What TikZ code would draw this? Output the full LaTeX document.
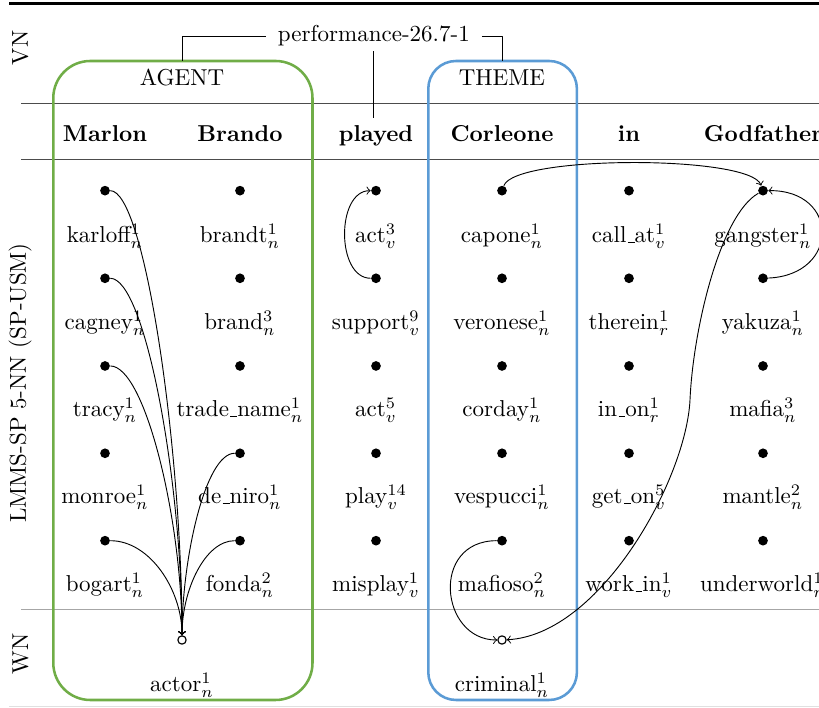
\documentclass[tikz,border=0pt]{standalone}
\usepackage{tikz}
\definecolor{agentgreen}{HTML}{70AD47}
\definecolor{themeblue}{HTML}{5B9BD5}
\newcommand{\synus}{\leavevmode\kern.06em\vbox{\hrule width.3em}}
\begin{document}
\begin{tikzpicture}[>=to,line join=bevel,
  synset/.style={circle,fill=black,inner sep=0pt,minimum size=4.2bp},
  wnsense/.style={circle,draw=black,fill=white,inner sep=0pt,minimum size=3.6bp,line width=0.5pt},
  sense/.style={anchor=base,inner sep=1pt},
  word/.style={anchor=base,font=\bfseries},
  rowname/.style={rotate=90},
  rolebox/.style={line width=1.1bp},
  rule/.style={line width=0.4pt,black!70}]
%%
\useasboundingbox (0bp,0bp) rectangle (354.63bp,306.56bp);
\draw [line width=1.3bp] (4.03bp,304.83bp) -- (354.63bp,304.83bp);
\draw [rule] (9.1bp,261.66bp) -- (354.63bp,261.66bp);
\draw [rule] (9.1bp,237.72bp) -- (354.63bp,237.72bp);
\draw [rule,black!35] (9.1bp,42.87bp) -- (354.63bp,42.87bp);
\draw [rule,black!12] (4.03bp,0.6bp) -- (354.63bp,0.6bp);
%
\draw [rolebox,agentgreen,rounded corners=16bp] (23.08bp,3.46bp) rectangle (135.31bp,280.15bp);
\draw [rolebox,themeblue,rounded corners=12bp] (185.45bp,3.46bp) rectangle (249.8bp,280.15bp);
\coordinate (agent_top) at (79.11bp,280.15bp);
\coordinate (theme_top) at (217.67bp,280.15bp);
%
\node (node_vn) at (8.79bp,285.78bp) [rowname] {VN};
\node (node_lmms) at (8.66bp,140.73bp) [rowname] {LMMS-SP 5-NN (SP-USM)};
\node (node_wn) at (8.9bp,23.38bp) [rowname] {WN};
%
\node (node_frame) at (161.88bp,290.98bp) [inner xsep=5pt,inner ysep=2pt] {performance-26.7-1};
\node (node_agent) at (78.81bp,269.33bp) [anchor=base] {AGENT};
\node (node_theme) at (217.37bp,269.33bp) [anchor=base] {THEME};
%
\node (node_marlon) at (45.47bp,245.2bp) [word] {Marlon};
\node (node_brando) at (103.92bp,245.2bp) [word] {Brando};
\node (node_played) at (162.81bp,245.2bp) [word] {played};
\node (node_corleone) at (217.37bp,245.2bp) [word] {Corleone};
\node (node_in) at (272.36bp,245.2bp) [word] {in};
\node (node_godfather) at (330.38bp,245.2bp) [word] {Godfather};
%
\draw (node_frame.west) -| (agent_top);
\draw (node_frame.east) -| (theme_top);
\draw (node_frame.south) -- (node_frame.south |- node_played.north);
%%
\node (node_karloff) at (45.47bp,224.0bp) [synset] {};
\node (node_brandt) at (103.92bp,224.0bp) [synset] {};
\node (node_act_3) at (162.81bp,224.0bp) [synset] {};
\node (node_capone) at (217.37bp,224.0bp) [synset] {};
\node (node_call_at) at (272.36bp,224.0bp) [synset] {};
\node (node_gangster) at (330.38bp,224.0bp) [synset] {};
\node (lbl_karloff) at (45.47bp,201.35bp) [sense] {karloff$^{1}_{n}$};
\node (lbl_brandt) at (103.92bp,201.35bp) [sense] {brandt$^{1}_{n}$};
\node (lbl_act_3) at (162.81bp,201.35bp) [sense] {act$^{3}_{v}$};
\node (lbl_capone) at (217.37bp,201.35bp) [sense] {capone$^{1}_{n}$};
\node (lbl_call_at) at (272.36bp,201.35bp) [sense] {call\synus at$^{1}_{v}$};
\node (lbl_gangster) at (330.38bp,201.35bp) [sense] {gangster$^{1}_{n}$};
%
\node (node_cagney) at (45.47bp,186.06bp) [synset] {};
\node (node_brand) at (103.92bp,186.06bp) [synset] {};
\node (node_support) at (162.81bp,186.06bp) [synset] {};
\node (node_veronese) at (217.37bp,186.06bp) [synset] {};
\node (node_therein) at (272.36bp,186.06bp) [synset] {};
\node (node_yakuza) at (330.38bp,186.06bp) [synset] {};
\node (lbl_cagney) at (45.47bp,163.67bp) [sense] {cagney$^{1}_{n}$};
\node (lbl_brand) at (103.92bp,163.67bp) [sense] {brand$^{3}_{n}$};
\node (lbl_support) at (162.81bp,163.67bp) [sense] {support$^{9}_{v}$};
\node (lbl_veronese) at (217.37bp,163.67bp) [sense] {veronese$^{1}_{n}$};
\node (lbl_therein) at (272.36bp,163.67bp) [sense] {therein$^{1}_{r}$};
\node (lbl_yakuza) at (330.38bp,163.67bp) [sense] {yakuza$^{1}_{n}$};
%
\node (node_tracy) at (45.47bp,148.09bp) [synset] {};
\node (node_trade_name) at (103.92bp,148.09bp) [synset] {};
\node (node_act_5) at (162.81bp,148.09bp) [synset] {};
\node (node_corday) at (217.37bp,148.09bp) [synset] {};
\node (node_in_on) at (272.36bp,148.09bp) [synset] {};
\node (node_mafia) at (330.38bp,148.09bp) [synset] {};
\node (lbl_tracy) at (45.47bp,126.0bp) [sense] {tracy$^{1}_{n}$};
\node (lbl_trade_name) at (103.92bp,126.0bp) [sense] {trade\synus name$^{1}_{n}$};
\node (lbl_act_5) at (162.81bp,126.0bp) [sense] {act$^{5}_{v}$};
\node (lbl_corday) at (217.37bp,126.0bp) [sense] {corday$^{1}_{n}$};
\node (lbl_in_on) at (272.36bp,126.0bp) [sense] {in\synus on$^{1}_{r}$};
\node (lbl_mafia) at (330.38bp,126.0bp) [sense] {mafia$^{3}_{n}$};
%
\node (node_monroe) at (45.47bp,110.29bp) [synset] {};
\node (node_de_niro) at (103.92bp,110.29bp) [synset] {};
\node (node_play) at (162.81bp,110.29bp) [synset] {};
\node (node_vespucci) at (217.37bp,110.29bp) [synset] {};
\node (node_get_on) at (272.36bp,110.29bp) [synset] {};
\node (node_mantle) at (330.38bp,110.29bp) [synset] {};
\node (lbl_monroe) at (45.47bp,88.33bp) [sense] {monroe$^{1}_{n}$};
\node (lbl_de_niro) at (103.92bp,88.33bp) [sense] {de\synus niro$^{1}_{n}$};
\node (lbl_play) at (162.81bp,88.33bp) [sense] {play$^{14}_{v}$};
\node (lbl_vespucci) at (217.37bp,88.33bp) [sense] {vespucci$^{1}_{n}$};
\node (lbl_get_on) at (272.36bp,88.33bp) [sense] {get\synus on$^{5}_{v}$};
\node (lbl_mantle) at (330.38bp,88.33bp) [sense] {mantle$^{2}_{n}$};
%
\node (node_bogart) at (45.47bp,72.44bp) [synset] {};
\node (node_fonda) at (103.92bp,72.44bp) [synset] {};
\node (node_misplay) at (162.81bp,72.44bp) [synset] {};
\node (node_mafioso) at (217.37bp,72.44bp) [synset] {};
\node (node_work_in) at (272.36bp,72.44bp) [synset] {};
\node (node_underworld) at (330.38bp,72.44bp) [synset] {};
\node (lbl_bogart) at (45.47bp,50.23bp) [sense] {bogart$^{1}_{n}$};
\node (lbl_fonda) at (103.92bp,50.23bp) [sense] {fonda$^{2}_{n}$};
\node (lbl_misplay) at (162.81bp,50.23bp) [sense] {misplay$^{1}_{v}$};
\node (lbl_mafioso) at (217.37bp,50.23bp) [sense] {mafioso$^{2}_{n}$};
\node (lbl_work_in) at (272.36bp,50.23bp) [sense] {work\synus in$^{1}_{v}$};
\node (lbl_underworld) at (330.38bp,50.23bp) [sense] {underworld$^{1}_{n}$};
%%
\node (node_actor) at (78.81bp,29.44bp) [wnsense] {};
\node (node_criminal) at (217.37bp,29.44bp) [wnsense] {};
\node (lbl_actor) at (78.81bp,6.93bp) [sense] {actor$^{1}_{n}$};
\node (lbl_criminal) at (217.37bp,6.93bp) [sense] {criminal$^{1}_{n}$};
%%
\draw [black,->] (node_karloff) ..controls (62.79bp,224.0bp) and (78.81bp,111.71bp) .. (node_actor);
\draw [black,->] (node_cagney) ..controls (62.79bp,186.06bp) and (78.81bp,98.72bp) .. (node_actor);
\draw [black,->] (node_tracy) ..controls (62.79bp,148.09bp) and (78.81bp,81.4bp) .. (node_actor);
\draw [black,->] (node_de_niro) ..controls (88.77bp,110.29bp) and (78.81bp,64.08bp) .. (node_actor);
\draw [black,->] (node_bogart) ..controls (64.95bp,72.44bp) and (78.81bp,51.09bp) .. (node_actor);
\draw [black,->] (node_fonda) ..controls (88.77bp,72.44bp) and (78.81bp,51.09bp) .. (node_actor);
\draw [black,->] (node_support) ..controls (145.49bp,186.06bp) and (145.49bp,224.0bp) .. (node_act_3);
\draw [black,->] (node_capone) ..controls (223.0bp,239.45bp) and (324.75bp,239.45bp) .. (node_gangster);
\draw [black,->] (node_yakuza) ..controls (363.72bp,187.49bp) and (363.72bp,224.29bp) .. (node_gangster);
\draw [black,->] (node_gangster) ..controls (311.76bp,213.47bp) and (300.07bp,163.67bp) .. (298.77bp,133.36bp)
  ..controls (297.04bp,98.72bp) and (259.8bp,31.61bp) .. (node_criminal);
\draw [black,->] (node_mafioso) ..controls (186.19bp,72.44bp) and (190.52bp,29.44bp) .. (node_criminal);
%
\end{tikzpicture}
\end{document}
